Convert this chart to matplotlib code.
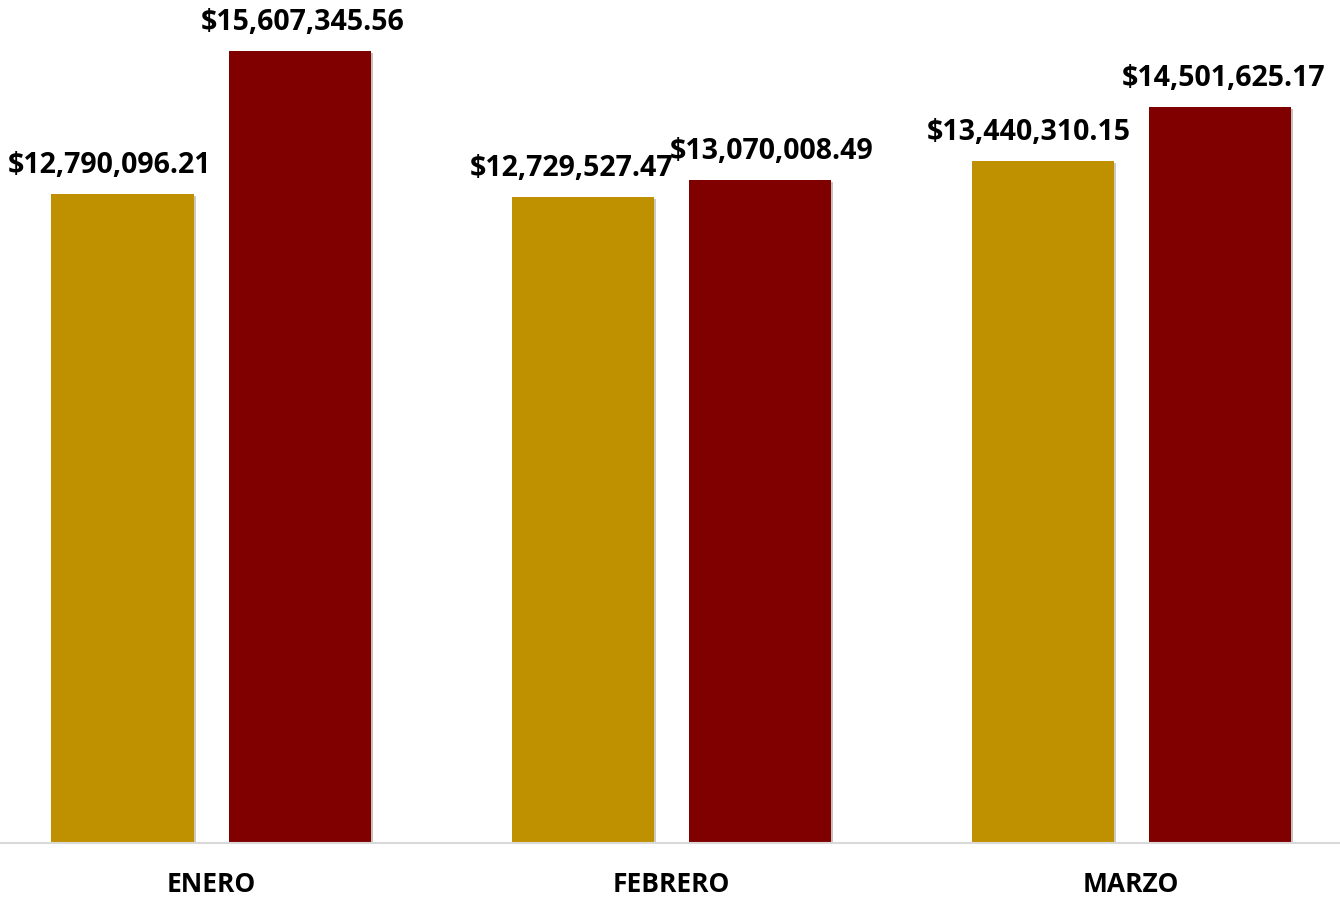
import matplotlib.pyplot as plt
import matplotlib.patheffects as pe
import numpy as np

months = ['ENERO', 'FEBRERO', 'MARZO']
serie_a = [12790096.21, 12729527.47, 13440310.15]
serie_b = [15607345.56, 13070008.49, 14501625.17]

color_a = '#BF9000'
color_b = '#800000'

plt.rcParams['font.family'] = ['Open Sans', 'DejaVu Sans']

fig = plt.figure(figsize=(13.4, 8.99), dpi=100)
ax = fig.add_axes([0, 56/899., 1, 843/899.])

x = np.arange(len(months))
w = 0.3087
off = 0.1924
shadow = [pe.SimplePatchShadow(offset=(1.5, -1.5), alpha=0.25), pe.Normal()]
bars_a = ax.bar(x - off, serie_a, w, color=color_a, path_effects=shadow, zorder=2)
bars_b = ax.bar(x + off, serie_b, w, color=color_b, path_effects=shadow, zorder=2)

# small horizontal nudges like the original labels
nudge_a = [-9, -8, -10]
nudge_b = [2, 9, 3]
for bars, vals, nudge in ((bars_a, serie_a, nudge_a), (bars_b, serie_b, nudge_b)):
    for b, v, n in zip(bars, vals, nudge):
        ax.annotate('${:,.2f}'.format(v), (b.get_x() + b.get_width()/2, v),
                    xytext=(n, 10), textcoords='offset points',
                    ha='center', va='bottom', fontsize=20.5, fontweight='bold',
                    color='black')

ax.set_xlim(-0.4587, 2.4543)
ax.set_ylim(0, 16.614e6)
ax.set_yticks([])
ax.set_xticks(x)
ax.set_xticklabels(months, fontsize=19, fontweight='bold')
ax.tick_params(axis='x', length=0, pad=20)
for s in ['top', 'left', 'right']:
    ax.spines[s].set_visible(False)
ax.spines['bottom'].set_color('#D9D9D9')
ax.spines['bottom'].set_linewidth(1.5)

fig.savefig('out.png', dpi=100)
